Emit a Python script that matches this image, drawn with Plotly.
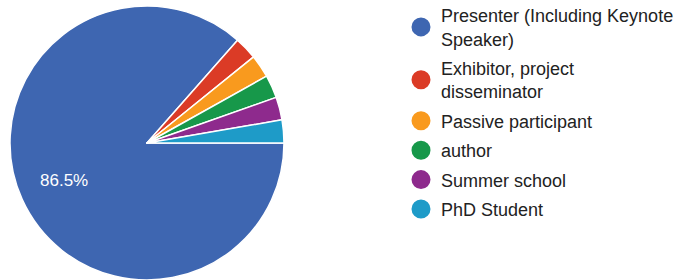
import math
import plotly.graph_objects as go

categories = ["Presenter (Including Keynote<br>Speaker)", "Exhibitor, project<br>disseminator",
              "Passive participant", "author", "Summer school", "PhD Student"]
counts = [32, 1, 1, 1, 1, 1]
colors = ["#3e66b1", "#db3b26", "#f99a1e", "#17984a", "#8e2a8d", "#1e9bc8"]

W, H = 678, 280
dom_x = [10 / W, 284 / W]
dom_y = [0, 1 - 6 / H]

fig = go.Figure()
fig.add_trace(go.Pie(
    labels=categories, values=counts, sort=False, direction="clockwise", rotation=90,
    marker=dict(colors=colors, line=dict(color="white", width=1.5)),
    textinfo="none", showlegend=False, hoverinfo="label+percent",
    domain=dict(x=dom_x, y=dom_y),
))
for i, (name, c) in enumerate(zip(categories, colors)):
    fig.add_trace(go.Scatter(
        x=[None], y=[None], mode="markers", name=name, legendgroup=str(i),
        marker=dict(symbol="circle", size=16, color=c, line=dict(color=c, width=3)),
        showlegend=True,
    ))

# percentage label for the largest slice, placed from the data (slice mid-angle)
total = sum(counts)
frac = counts[0] / total
mid = 2 * math.pi * (frac / 2)  # clockwise from 3 o'clock
cx_px = (dom_x[0] + dom_x[1]) / 2 * W
cy_px = (dom_y[0] + dom_y[1]) / 2 * H
r_px = min((dom_x[1] - dom_x[0]) * W, (dom_y[1] - dom_y[0]) * H) / 2
lx = cx_px + 0.665 * r_px * math.cos(mid)
ly = cy_px - 0.665 * r_px * math.sin(mid)
fig.add_annotation(x=lx / W, y=ly / H, xref="paper", yref="paper", showarrow=False,
                   xanchor="center", yanchor="middle",
                   text=f"{frac * 100:.1f}%",
                   font=dict(color="white", size=17, family="Liberation Sans"))

fig.update_layout(
    width=W, height=H, margin=dict(l=0, r=0, t=0, b=0, autoexpand=False),
    paper_bgcolor="white", plot_bgcolor="white",
    xaxis=dict(visible=False), yaxis=dict(visible=False),
    legend=dict(x=401 / W, y=1 + 3 / H, xanchor="left", yanchor="top", traceorder="grouped",
                tracegroupgap=3, maxheight=400,
                font=dict(size=18, family="Liberation Sans", color="#222"),
                itemclick=False),
)
fig.write_html("out.html", config={"displayModeBar": False},
               post_script="document.body.style.margin='0';")
